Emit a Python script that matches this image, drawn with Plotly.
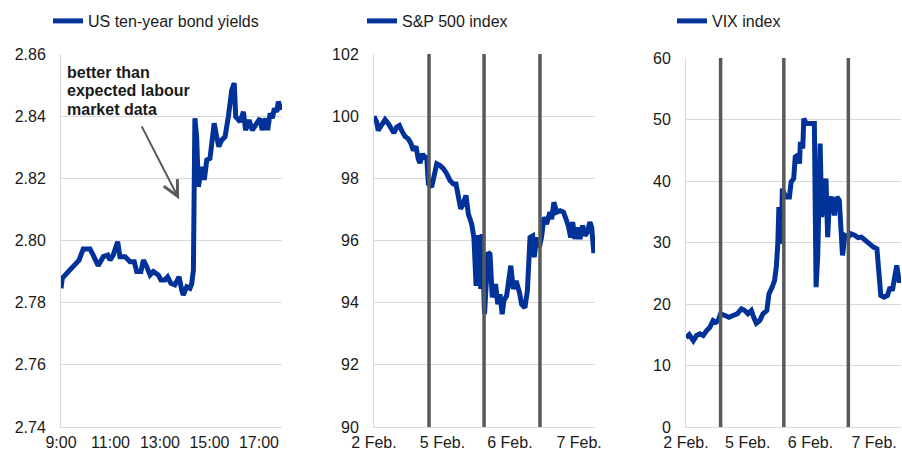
import plotly.graph_objects as go

# ---------------- data ----------------
# Panel 1: US ten-year bond yields (intraday, hours)
bond_hours = [9.00, 9.05, 9.23, 9.36, 9.57, 9.73, 9.90, 10.04, 10.17, 10.30, 10.50, 10.71, 10.89, 10.98,
              11.11, 11.29, 11.38, 11.59, 11.79, 11.96, 12.06, 12.23, 12.33, 12.46, 12.60, 12.73, 12.93,
              13.04, 13.20, 13.31, 13.44, 13.60, 13.77, 13.88, 13.94, 14.08, 14.21, 14.28, 14.35, 14.41,
              14.48, 14.55, 14.69, 14.79, 14.89, 15.02, 15.19, 15.29, 15.38, 15.49, 15.63, 15.76, 15.90,
              16.00, 16.06, 16.24, 16.37, 16.46, 16.60, 16.73, 16.90, 17.04, 17.13, 17.27, 17.35, 17.45,
              17.54, 17.62, 17.72, 17.78, 17.90]
bond_yields = [2.7846, 2.7878, 2.7894, 2.7905, 2.7921, 2.7937, 2.7973, 2.7975, 2.7973, 2.7953, 2.7919,
               2.7948, 2.7953, 2.7937, 2.7953, 2.7996, 2.7948, 2.7948, 2.7932, 2.7932, 2.7900, 2.7900,
               2.7937, 2.7916, 2.7889, 2.7900, 2.7889, 2.7873, 2.7873, 2.7883, 2.7862, 2.7857, 2.7883,
               2.7840, 2.7825, 2.7851, 2.7846, 2.7860, 2.7905, 2.8393, 2.8334, 2.8173, 2.8237, 2.8195,
               2.8259, 2.8264, 2.8377, 2.8334, 2.8302, 2.8323, 2.8334, 2.8398, 2.8484, 2.8506, 2.8398,
               2.8382, 2.8414, 2.8355, 2.8388, 2.8355, 2.8377, 2.8393, 2.8355, 2.8393, 2.8355, 2.8409,
               2.8393, 2.8425, 2.8414, 2.8447, 2.8420]
bond_tickvals = [9, 11, 13, 15, 17]
bond_ticktext = ["9:00", "11:00", "13:00", "15:00", "17:00"]

# Panel 2: S&P 500 index (observation index 0-100 across 2-7 Feb)
sp_t = [0, 1.2, 1.9, 3.5, 5.0, 6.5, 7.5, 9.0, 10.3, 11.5, 12.5, 14.0, 15.5, 16.6, 17.8, 19.0, 20.0, 20.8,
        22.0, 23.0, 23.8, 24.6, 26.1, 27.1, 28.4, 29.9, 31.4, 32.9, 34.4, 35.9, 37.1, 38.1, 39.2, 40.4,
        41.6, 42.7, 44.2, 45.2, 46.2, 47.2, 48.3, 48.9, 50.0, 51.6, 52.5, 53.5, 55.0, 56.0, 57.0, 58.0,
        58.8, 60.0, 60.8, 61.9, 63.0, 64.3, 65.8, 66.8, 68.3, 69.4, 70.6, 71.8, 72.5, 73.6, 74.8, 75.8,
        76.9, 78.1, 79.6, 80.4, 81.4, 82.6, 84.2, 85.7, 86.9, 87.9, 89.0, 89.9, 90.9, 92.0, 93.2, 94.4,
        95.5, 96.5, 97.7, 98.5, 99.4, 100.0]
sp_v = [100.0, 99.81, 99.54, 99.76, 99.89, 99.76, 99.65, 99.46, 99.65, 99.70, 99.54, 99.35, 99.27, 99.14,
        98.90, 99.03, 98.63, 98.49, 98.79, 98.63, 98.74, 97.82, 97.72, 98.04, 98.47, 98.41, 98.31, 98.15,
        97.93, 97.82, 97.82, 97.45, 97.02, 97.18, 97.45, 96.85, 96.53, 96.10, 94.54, 96.17, 94.44, 96.21,
        93.63, 95.62, 95.56, 94.17, 94.60, 93.95, 94.27, 93.63, 94.07, 94.22, 94.55, 95.19, 94.44, 94.70,
        94.33, 93.95, 93.84, 94.38, 96.10, 96.15, 95.46, 96.10, 95.78, 96.10, 96.75, 96.53, 96.91, 96.69,
        97.23, 96.91, 96.96, 96.91, 96.69, 96.48, 96.10, 96.59, 96.05, 96.42, 96.05, 96.48, 96.16, 96.26,
        96.59, 96.42, 95.67, 95.67]
sp_day_breaks = [24.9, 49.8, 75.1]
sp_tickvals = [0, 31.0, 61.5, 92.8]

# Panel 3: VIX index
vix_t = [0, 1.5, 3.4, 4.9, 6.5, 8.0, 9.6, 11.1, 12.6, 13.9, 15.0, 16.1, 18.1, 20.0, 21.9, 23.8, 25.8, 27.3,
         28.8, 30.4, 31.5, 32.7, 34.3, 35.8, 37.6, 38.6, 40.1, 41.2, 42.0, 42.7, 43.2, 44.3, 44.8, 46.3,
         48.1, 48.9, 50.1, 50.8, 52.0, 52.8, 53.2, 54.3, 54.8, 55.9, 59.7, 60.5, 61.3, 62.4, 63.1, 64.1,
         65.1, 65.9, 66.7, 67.7, 69.0, 70.2, 71.3, 72.8, 73.9, 75.5, 76.7, 78.6, 80.1, 81.6, 83.2, 85.2,
         87.2, 88.8, 89.8, 90.6, 92.1, 93.7, 94.9, 96.0, 96.8, 98.0, 99.1, 100.0]
vix_v = [14.5, 15.03, 14.05, 14.87, 15.15, 14.87, 15.68, 16.22, 17.31, 17.04, 17.31, 18.4, 18.13, 17.85,
         18.13, 18.4, 19.22, 18.94, 18.4, 18.94, 17.85, 16.87, 17.31, 18.4, 18.94, 21.66, 22.74, 23.83,
         26.0, 29.8, 35.77, 29.8, 38.76, 37.4, 37.4, 39.84, 40.39, 43.91, 44.19, 42.83, 46.35, 45.28,
         50.16, 49.35, 49.35, 22.74, 28.17, 46.09, 34.14, 37.95, 40.39, 30.88, 36.86, 37.4, 34.42, 37.4,
         36.86, 27.9, 31.16, 30.88, 31.43, 31.16, 30.78, 30.88, 30.34, 29.8, 29.25, 28.98, 25.46, 21.38,
         21.1, 21.38, 22.74, 22.2, 23.83, 26.27, 23.83, 23.83]
vix_day_breaks = [16.1, 45.5, 75.5]
vix_tickvals = [0, 28.7, 57.9, 87.5]

day_labels = ["2 Feb.", "5 Feb.", "6 Feb.", "7 Feb."]
series_names = ["US ten-year bond yields", "S&P 500 index", "VIX index"]
note_lines = ["better than", "expected labour", "market data"]

# ---------------- styling ----------------
W, H = 902, 452
BLUE = "#003299"
GRID = "#d9d9d9"
SEP = "#595959"
FONT = "Liberation Sans, Arial, sans-serif"
TXT = "#1a1a1a"

def px_x(a, b):
    return [a / W, b / W]

def px_y(top, bottom):
    return [(H - bottom) / H, (H - top) / H]

fig = go.Figure()
fig.add_trace(go.Scatter(x=bond_hours, y=bond_yields, mode="lines", name=series_names[0],
                         line=dict(color=BLUE, width=5), xaxis="x", yaxis="y", legend="legend"))
fig.add_trace(go.Scatter(x=sp_t, y=sp_v, mode="lines", name=series_names[1],
                         line=dict(color=BLUE, width=5), xaxis="x2", yaxis="y2", legend="legend2"))
fig.add_trace(go.Scatter(x=vix_t, y=vix_v, mode="lines", name=series_names[2],
                         line=dict(color=BLUE, width=5), xaxis="x3", yaxis="y3", legend="legend3"))

tickfont = dict(family=FONT, size=16, color=TXT)

def xaxis(domain, anchor, rng, tv, tt):
    return dict(domain=domain, anchor=anchor, range=rng, tickvals=tv, ticktext=tt,
                showgrid=False, zeroline=False, showline=True, linecolor=GRID, linewidth=1,
                ticks="", ticklabelstandoff=1, tickfont=tickfont, fixedrange=True, automargin=False)

def yaxis(domain, anchor, rng, dtick, fmt):
    return dict(domain=domain, anchor=anchor, range=rng, dtick=dtick, tick0=rng[0], tickformat=fmt,
                showgrid=True, gridcolor=GRID, gridwidth=1, zeroline=False, showline=True,
                linecolor=GRID, linewidth=1, ticks="", ticklabelstandoff=11, tickfont=tickfont,
                fixedrange=True, automargin=False)

legend_common = dict(font=dict(family=FONT, size=16, color=TXT), bgcolor="rgba(0,0,0,0)",
                     xanchor="left", yanchor="middle", y=(H - 21) / H, borderwidth=0)

shapes = []
for s in sp_day_breaks:
    shapes.append(dict(type="line", xref="x2", yref="y2 domain", x0=s, x1=s, y0=0, y1=1,
                       line=dict(color=SEP, width=3.5), layer="above"))
for s in vix_day_breaks:
    shapes.append(dict(type="line", xref="x3", yref="y3 domain", x0=s, x1=s, y0=0, y1=1,
                       line=dict(color=SEP, width=3.5), layer="above"))

annotations = [dict(x=13.77, y=2.8133, ax=12.23, ay=2.8372, xref="x", yref="y", axref="x", ayref="y",
                    text="", showarrow=True, arrowhead=5, arrowsize=1.5, arrowwidth=2, arrowcolor=SEP)]
for txt, yy in zip(note_lines, [2.8542, 2.8481, 2.8423]):
    annotations.append(dict(x=9.18, y=yy, xref="x", yref="y", xanchor="left", yanchor="middle",
                            text="<b>%s</b>" % txt, showarrow=False,
                            font=dict(family=FONT, size=16, color=TXT)))

fig.update_layout(
    template="none",
    width=W, height=H, margin=dict(l=0, r=0, t=0, b=0, autoexpand=False),
    paper_bgcolor="white", plot_bgcolor="white",
    font=dict(family=FONT, size=16, color=TXT),
    xaxis=xaxis(px_x(61, 282), "y", [9, 17.93], bond_tickvals, bond_ticktext),
    yaxis=yaxis(px_y(54, 427), "x", [2.74, 2.86], 0.02, ".2f"),
    xaxis2=xaxis(px_x(374, 595), "y2", [0, 100], sp_tickvals, day_labels),
    yaxis2=yaxis(px_y(54, 427), "x2", [90, 102], 2, "d"),
    xaxis3=xaxis(px_x(686, 901), "y3", [0, 100], vix_tickvals, day_labels),
    yaxis3=yaxis(px_y(58, 427), "x3", [0, 60], 10, "d"),
    legend=dict(legend_common, x=48 / W),
    legend2=dict(legend_common, x=362 / W),
    legend3=dict(legend_common, x=672 / W),
    shapes=shapes, annotations=annotations, showlegend=True,
)

fig.write_html("out.html", config={"displayModeBar": False},
               post_script="document.body.style.margin='0';document.body.style.padding='0';")
